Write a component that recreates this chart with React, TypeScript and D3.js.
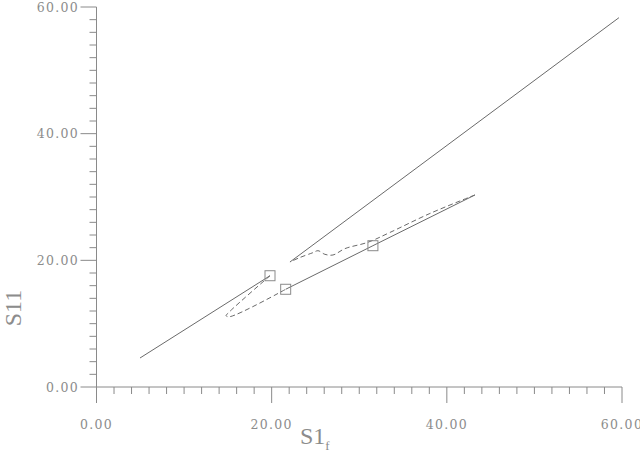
import React from "react";
import * as d3 from "d3";

type P = [number, number];

// Trajectory pieces (S1f, S11)
const solidApproach: P[] = [[4.97, 4.58], [19.81, 17.57]];
const dashedLoop: P[] = [[19.81, 17.57], [15.2, 11.9], [14.8, 11.25], [15.2, 11.1], [21.6, 15.43]];
const solidMiddle: P[] = [[21.6, 15.43], [31.56, 22.31], [43.21, 30.32]];
const dashedReturn: P[] = [
  [43.21, 30.32], [38.07, 27.4], [33.5, 24.4], [30.99, 22.85], [28.37, 21.85],
  [27.0, 20.84], [26.08, 20.95], [25.29, 21.52], [24.71, 21.21], [23.23, 20.45], [22.09, 19.74],
];
const solidFinal: P[] = [[22.09, 19.74], [59.65, 58.31]];
const markers: P[] = [[19.81, 17.57], [21.6, 15.43], [31.56, 22.31]];

const xMajor = [0, 20, 40, 60];
const yMajor = [0, 20, 40, 60];
const minorStep = 2;

const W = 640, H = 454;
const axisColor = "#8a8a8a";
const lineColor = "#6a6a6a";
const textColor = "#8c8c8c";

export default function App() {
  const x = d3.scaleLinear().domain([0, 60]).range([96.5, 622]);
  const y = d3.scaleLinear().domain([0, 60]).range([387, 7]);
  const line = d3.line<P>().x(d => x(d[0])).y(d => y(d[1]));
  const curve = d3.line<P>().x(d => x(d[0])).y(d => y(d[1])).curve(d3.curveCatmullRom.alpha(0.5));
  const minors = d3.range(0, 60 + 0.001, minorStep).filter(v => !xMajor.includes(v));
  const tickFont = { fontFamily: "DejaVu Serif", fontSize: 12.5, letterSpacing: 1.3, fill: textColor };
  return (
    <svg width={W} height={H} style={{ position: "absolute", left: 0, top: 0, background: "#fff" }}>
      <g stroke={axisColor} strokeWidth={1} fill="none">
        <line x1={x(0)} x2={x(60)} y1={y(0)} y2={y(0)} />
        <line x1={x(0)} x2={x(0)} y1={y(0)} y2={y(60)} />
        {xMajor.map(v => <line key={"xM" + v} x1={x(v)} x2={x(v)} y1={y(0)} y2={y(0) + 16} />)}
        {minors.map(v => <line key={"xm" + v} x1={x(v)} x2={x(v)} y1={y(0)} y2={y(0) + 7} />)}
        {yMajor.map(v => <line key={"yM" + v} x1={x(0) - 16} x2={x(0)} y1={y(v)} y2={y(v)} />)}
        {minors.map(v => <line key={"ym" + v} x1={x(0) - 7} x2={x(0)} y1={y(v)} y2={y(v)} />)}
      </g>
      {xMajor.map(v => (
        <text key={"xl" + v} x={x(v)} y={429} textAnchor="middle" {...tickFont}>{v.toFixed(2)}</text>
      ))}
      {yMajor.map(v => (
        <text key={"yl" + v} x={79} y={y(v) + 4.5} textAnchor="end" {...tickFont}>{v.toFixed(2)}</text>
      ))}
      <text x={300} y={444} fontFamily="Liberation Serif" fontSize={24} fill={textColor}>
        S1<tspan fontSize={13} dy={6}>f</tspan>
      </text>
      <text transform="translate(21,308) rotate(-90)" textAnchor="middle" fontFamily="Liberation Serif" fontSize={24} fill={textColor}>S11</text>
      <g fill="none" stroke={lineColor} strokeWidth={1}>
        <path d={line(solidApproach) || ""} />
        <path d={line(solidMiddle) || ""} />
        <path d={line(solidFinal) || ""} />
        <path d={curve(dashedLoop) || ""} strokeDasharray="5,3" />
        <path d={curve(dashedReturn) || ""} strokeDasharray="5,3" />
        {markers.map((m, i) => (
          <rect key={i} x={x(m[0]) - 5} y={y(m[1]) - 5} width={10} height={10} stroke={axisColor} />
        ))}
      </g>
    </svg>
  );
}
